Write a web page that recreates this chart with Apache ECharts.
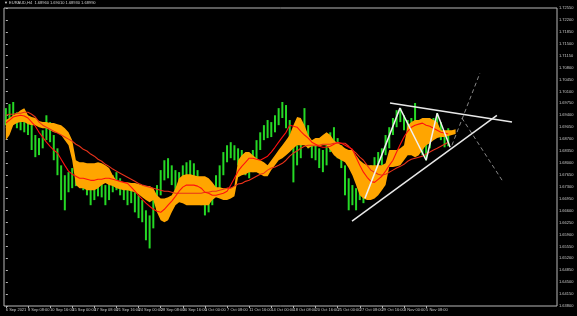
<!DOCTYPE html>
<html><head><meta charset="utf-8">
<script src="https://cdn.jsdelivr.net/npm/echarts@6/dist/echarts.min.js"></script>
<style>html,body{margin:0;padding:0;background:#000;}#c{width:577px;height:316px;}</style>
</head><body><div id="c"></div>
<script>
// ---- data ----
const tickLabels=['6 Sep 2021','8 Sep 08:00','10 Sep 16:00','15 Sep 00:00','17 Sep 08:00','21 Sep 16:00','24 Sep 00:00','28 Sep 08:00','30 Sep 16:00','5 Oct 00:00','7 Oct 08:00','11 Oct 16:00','14 Oct 00:00','18 Oct 08:00','20 Oct 16:00','25 Oct 00:00','27 Oct 08:00','29 Oct 16:00','3 Nov 00:00','5 Nov 08:00'];
const yMin=1.6380, yMax=1.7255, yStep=0.0035;
const currentPrice=1.6899;
const titleText='\u25BC EURAUD,H4  1.68960 1.69010 1.68930 1.68990';
const highs=[1.6961,1.6973,1.6979,1.6949,1.6940,1.6932,1.6926,1.6911,1.6882,1.6873,
1.6896,1.6940,1.6920,1.6882,1.6843,1.6793,1.6764,1.6773,1.6785,1.6779,
1.6793,1.6773,1.6755,1.6743,1.6749,1.6755,1.6743,1.6735,1.6749,1.6764,
1.6773,1.6755,1.6743,1.6735,1.6726,1.6714,1.6705,1.6691,1.6661,1.6646,
1.6691,1.6735,1.6779,1.6808,1.6814,1.6793,1.6779,1.6773,1.6793,1.6802,
1.6808,1.6799,1.6779,1.6749,1.6735,1.6720,1.6735,1.6764,1.6793,1.6832,
1.6852,1.6861,1.6852,1.6843,1.6838,1.6823,1.6814,1.6838,1.6867,1.6890,
1.6911,1.6926,1.6920,1.6940,1.6961,1.6979,1.6970,1.6926,1.6867,1.6852,
1.6867,1.6961,1.6911,1.6867,1.6852,1.6843,1.6838,1.6852,1.6890,1.6905,
1.6873,1.6852,1.6793,1.6755,1.6735,1.6726,1.6743,1.6741,1.6755,1.6793,
1.6817,1.6832,1.6843,1.6882,1.6905,1.6932,1.6955,1.6961,1.6940,1.6926,
1.6932,1.6976,1.6920,1.6896,1.6867,1.6902,1.6932,1.6946,1.6920,1.6890,
1.6902];
const lows=[1.6911,1.6926,1.6932,1.6902,1.6896,1.6890,1.6882,1.6838,1.6817,1.6823,
1.6843,1.6867,1.6861,1.6808,1.6764,1.6691,1.6661,1.6714,1.6726,1.6732,
1.6735,1.6720,1.6705,1.6676,1.6691,1.6702,1.6699,1.6676,1.6691,1.6714,
1.6720,1.6705,1.6691,1.6676,1.6682,1.6655,1.6638,1.6626,1.6573,1.6549,
1.6608,1.6661,1.6705,1.6749,1.6755,1.6735,1.6720,1.6726,1.6735,1.6743,
1.6735,1.6726,1.6714,1.6676,1.6646,1.6655,1.6676,1.6705,1.6726,1.6764,
1.6802,1.6814,1.6808,1.6793,1.6785,1.6764,1.6755,1.6773,1.6808,1.6838,
1.6867,1.6873,1.6876,1.6890,1.6911,1.6932,1.6902,1.6838,1.6743,1.6793,
1.6814,1.6867,1.6843,1.6814,1.6808,1.6785,1.6773,1.6793,1.6832,1.6843,
1.6814,1.6785,1.6705,1.6661,1.6676,1.6661,1.6691,1.6682,1.6696,1.6735,
1.6773,1.6785,1.6793,1.6823,1.6843,1.6882,1.6905,1.6920,1.6896,1.6890,
1.6896,1.6911,1.6867,1.6823,1.6808,1.6843,1.6882,1.6902,1.6867,1.6846,
1.6849];
const cloudTop=[1.6926,1.6932,1.6940,1.6946,1.6955,1.6961,1.6940,1.6935,1.6932,1.6923,
1.6920,1.6920,1.6917,1.6917,1.6914,1.6911,1.6902,1.6890,1.6867,1.6808,
1.6802,1.6802,1.6799,1.6799,1.6799,1.6802,1.6799,1.6793,1.6785,1.6764,
1.6749,1.6746,1.6743,1.6743,1.6741,1.6741,1.6738,1.6735,1.6732,1.6732,
1.6726,1.6705,1.6696,1.6696,1.6699,1.6705,1.6726,1.6755,1.6764,1.6767,
1.6767,1.6764,1.6761,1.6761,1.6761,1.6755,1.6743,1.6729,1.6729,1.6726,
1.6726,1.6726,1.6732,1.6808,1.6823,1.6832,1.6832,1.6823,1.6814,1.6808,
1.6802,1.6793,1.6808,1.6823,1.6838,1.6852,1.6867,1.6882,1.6911,1.6935,
1.6932,1.6911,1.6882,1.6867,1.6873,1.6873,1.6882,1.6890,1.6882,1.6867,
1.6858,1.6852,1.6843,1.6838,1.6838,1.6823,1.6808,1.6799,1.6793,1.6793,
1.6793,1.6793,1.6793,1.6799,1.6838,1.6838,1.6838,1.6843,1.6852,1.6911,
1.6920,1.6926,1.6926,1.6932,1.6932,1.6932,1.6926,1.6920,1.6896,1.6896,
1.6896,1.6896,1.6899];
const cloudBottom=[1.6867,1.6882,1.6911,1.6917,1.6920,1.6920,1.6914,1.6911,1.6911,1.6905,
1.6902,1.6902,1.6896,1.6890,1.6888,1.6882,1.6867,1.6852,1.6808,1.6735,
1.6726,1.6726,1.6720,1.6720,1.6720,1.6726,1.6735,1.6741,1.6735,1.6732,
1.6726,1.6723,1.6720,1.6720,1.6717,1.6714,1.6708,1.6699,1.6691,1.6685,
1.6691,1.6655,1.6632,1.6626,1.6632,1.6655,1.6676,1.6685,1.6682,1.6676,
1.6676,1.6676,1.6676,1.6676,1.6676,1.6676,1.6691,1.6699,1.6696,1.6691,
1.6691,1.6696,1.6702,1.6758,1.6764,1.6767,1.6773,1.6773,1.6773,1.6767,
1.6761,1.6761,1.6779,1.6793,1.6808,1.6814,1.6823,1.6832,1.6843,1.6852,
1.6852,1.6852,1.6843,1.6849,1.6849,1.6849,1.6852,1.6852,1.6838,1.6823,
1.6814,1.6808,1.6802,1.6785,1.6764,1.6735,1.6705,1.6696,1.6691,1.6691,
1.6696,1.6705,1.6720,1.6735,1.6788,1.6788,1.6790,1.6793,1.6808,1.6823,
1.6823,1.6817,1.6823,1.6838,1.6852,1.6858,1.6867,1.6873,1.6876,1.6876,
1.6879,1.6882,1.6885];
const fastLine=[1.6917,1.6926,1.6935,1.6938,1.6940,1.6938,1.6932,1.6920,1.6908,1.6890,
1.6876,1.6861,1.6849,1.6838,1.6829,1.6811,1.6793,1.6776,1.6767,1.6761,
1.6755,1.6755,1.6752,1.6749,1.6749,1.6752,1.6752,1.6755,1.6755,1.6752,
1.6749,1.6746,1.6743,1.6740,1.6729,1.6717,1.6705,1.6693,1.6682,1.6673,
1.6664,1.6658,1.6655,1.6664,1.6676,1.6688,1.6702,1.6717,1.6729,1.6735,
1.6735,1.6735,1.6732,1.6726,1.6714,1.6711,1.6705,1.6705,1.6708,1.6711,
1.6717,1.6735,1.6755,1.6776,1.6790,1.6802,1.6814,1.6814,1.6811,1.6808,
1.6814,1.6820,1.6832,1.6846,1.6861,1.6876,1.6890,1.6911,1.6908,1.6905,
1.6893,1.6882,1.6873,1.6861,1.6855,1.6849,1.6846,1.6846,1.6849,1.6855,
1.6861,1.6858,1.6852,1.6846,1.6840,1.6817,1.6793,1.6773,1.6758,1.6746,
1.6743,1.6752,1.6761,1.6776,1.6793,1.6808,1.6832,1.6855,1.6876,1.6893,
1.6905,1.6911,1.6914,1.6917,1.6911,1.6908,1.6902,1.6896,1.6890,1.6888,
1.6885];
const slowLine=[1.6940,1.6943,1.6943,1.6946,1.6946,1.6949,1.6949,1.6943,1.6935,1.6920,
1.6911,1.6905,1.6899,1.6893,1.6888,1.6882,1.6876,1.6870,1.6864,1.6855,
1.6849,1.6840,1.6835,1.6826,1.6820,1.6811,1.6805,1.6796,1.6790,1.6782,
1.6776,1.6770,1.6764,1.6758,1.6752,1.6746,1.6740,1.6735,1.6732,1.6729,
1.6726,1.6723,1.6720,1.6717,1.6717,1.6714,1.6711,1.6711,1.6711,1.6711,
1.6711,1.6711,1.6711,1.6711,1.6714,1.6714,1.6717,1.6717,1.6720,1.6723,
1.6726,1.6726,1.6732,1.6738,1.6740,1.6746,1.6749,1.6755,1.6761,1.6767,
1.6770,1.6779,1.6785,1.6788,1.6793,1.6799,1.6808,1.6820,1.6829,1.6835,
1.6843,1.6849,1.6852,1.6852,1.6852,1.6852,1.6855,1.6855,1.6855,1.6858,
1.6858,1.6858,1.6858,1.6849,1.6838,1.6829,1.6817,1.6808,1.6793,1.6779,
1.6773,1.6767,1.6764,1.6767,1.6773,1.6779,1.6785,1.6790,1.6796,1.6805,
1.6811,1.6814,1.6817,1.6820,1.6826,1.6832,1.6838,1.6843,1.6849,1.6855,
1.6861];
// hand-drawn annotations, in (bar index, price)
const upperTrend=[[104.2,1.6976],[137.3,1.6920]];
const lowerTrend=[[93.9,1.6629],[133.2,1.6940]];
const zigzag=[[97.4,1.6696],[106.9,1.6961],[114.0,1.6808],[117.0,1.6946],[120.5,1.6846]];
const dashUp=[[121.0,1.6852],[128.6,1.7064]];
const dashDown=[[123.7,1.6932],[134.8,1.6746]];
const qMarks=[[129.4,1.7020],[132.4,1.6829]];
const N=150;

// ---- chart ----
const cats=[];
for(let i=0;i<N;i++){cats.push(i%6===0 && tickLabels[i/6] ? tickLabels[i/6] : '');}
const range=highs.map((h,i)=>+(h-lows[i]).toFixed(5));
const band=cloudTop.map((t,i)=>+(t-cloudBottom[i]).toFixed(5));
const FONT='Liberation Sans Narrow, Liberation Sans, sans-serif';
const chart=echarts.init(document.getElementById('c'),null,{renderer:'canvas'});
const annLine=(data,color,width,type)=>({type:'line',xAxisIndex:1,yAxisIndex:0,data:data,symbol:'none',z:6,
  lineStyle:{color:color,width:width,type:type},silent:true});
chart.setOption({
  backgroundColor:'#000',animation:false,
  title:{text:titleText,left:4,top:1,padding:0,textStyle:{color:'#d0d0d0',fontSize:4,fontWeight:'normal',fontFamily:FONT}},
  grid:{left:4,right:20,top:8,bottom:10,show:true,borderColor:'#b8b8b8',borderWidth:1,backgroundColor:'#000'},
  xAxis:[{type:'category',data:cats,boundaryGap:true,axisLine:{show:false},
    axisTick:{show:true,alignWithLabel:true,interval:(i)=>cats[i]!=='',length:2,lineStyle:{color:'#b8b8b8'}},
    axisLabel:{interval:(i)=>cats[i]!=='',showMinLabel:true,hideOverlap:false,align:'left',color:'#c8c8c8',fontSize:4,margin:2,fontFamily:FONT},
    splitLine:{show:false}},
    {type:'value',min:-0.5,max:N-0.5,show:false}],
  yAxis:{type:'value',position:'right',min:yMin,max:yMax,interval:yStep,axisLine:{show:false},
    axisTick:{show:true,length:2,lineStyle:{color:'#b8b8b8'}},
    axisLabel:{color:'#c8c8c8',fontSize:4,margin:2,fontFamily:FONT,formatter:v=>v.toFixed(5)},
    splitLine:{show:false}},
  series:[
    {type:'bar',stack:'px',data:lows,barWidth:2,itemStyle:{color:'rgba(0,0,0,0)'},z:2,silent:true},
    {type:'bar',stack:'px',data:range,barWidth:2,itemStyle:{color:'#25d825'},z:2,silent:true,
      markLine:{symbol:'none',silent:true,data:[{yAxis:currentPrice}],lineStyle:{opacity:0},
        label:{show:true,position:'end',distance:1,formatter:()=>currentPrice.toFixed(5),color:'#000',backgroundColor:'#d8d8d8',fontSize:4,padding:[1,1],fontFamily:FONT}}},
    {type:'line',stack:'cloud',data:cloudBottom,symbol:'none',lineStyle:{opacity:0},z:3,silent:true},
    {type:'line',stack:'cloud',data:band,symbol:'none',lineStyle:{opacity:0},areaStyle:{color:'#ffa500',opacity:1},z:3,silent:true},
    {type:'line',data:slowLine,symbol:'none',lineStyle:{color:'#e8321a',width:1.1},z:4,silent:true},
    {type:'line',data:fastLine,symbol:'none',lineStyle:{color:'#ff1010',width:1.1},z:4,silent:true},
    annLine(upperTrend,'#e8e8e8',1.5,'solid'),
    annLine(lowerTrend,'#e8e8e8',1.5,'solid'),
    annLine(zigzag,'#f0f0f0',1.5,'solid'),
    annLine(dashUp,'#a8a8a8',0.8,[4,3]),
    annLine(dashDown,'#a8a8a8',0.8,[4,3]),
    {type:'scatter',xAxisIndex:1,yAxisIndex:0,data:qMarks,symbolSize:1,itemStyle:{opacity:0},z:6,silent:true,
      label:{show:true,position:'inside',formatter:'?',color:'#cfcfcf',fontSize:11,fontFamily:'DejaVu Sans'}}
  ]
});
</script></body></html>
